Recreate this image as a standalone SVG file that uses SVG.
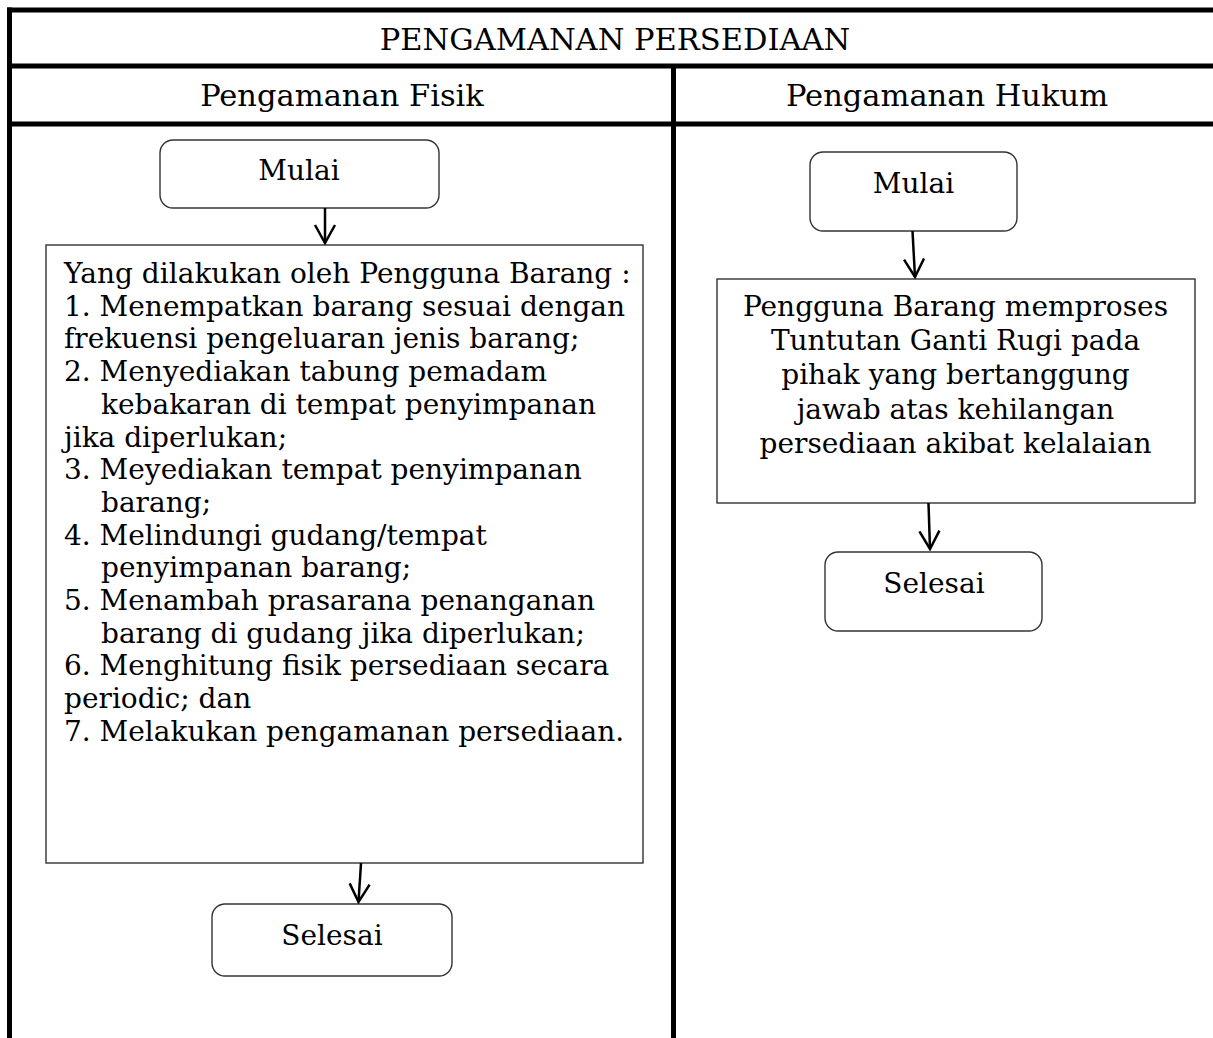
<svg xmlns="http://www.w3.org/2000/svg" width="1213" height="1038" viewBox="0 0 1213 1038">
  <style>
    text { font-family: "DejaVu Serif", "Liberation Serif", serif; fill: #000; }
    .title { font-size: 30.5px; text-anchor: middle; }
    .body { font-size: 28px; }
    .mid { text-anchor: middle; }
    .frame { stroke: #000; stroke-width: 5; fill: none; }
    .box { fill: #fff; stroke: #333; stroke-width: 1.4; }
    .conn { stroke: #000; stroke-width: 2.5; fill: none; }
  </style>
  <defs>
    <!-- open V arrowhead, drawn pointing along +x -->
    <marker id="arrow" viewBox="0 0 24 24" refX="22" refY="12" markerWidth="24" markerHeight="24" markerUnits="userSpaceOnUse" orient="auto">
      <path d="M4 2 L22 12 L4 22" fill="none" stroke="#000" stroke-width="2.5" stroke-linejoin="miter"/>
    </marker>
  </defs>

  <rect width="1213" height="1038" fill="#fff"/>

  <!-- swimlane frame -->
  <g id="frame">
    <line class="frame" x1="7" y1="10" x2="1213" y2="10"/>
    <line class="frame" x1="9.5" y1="7.5" x2="9.5" y2="1038"/>
    <line class="frame" x1="7" y1="66" x2="1213" y2="66"/>
    <line class="frame" x1="7" y1="124" x2="1213" y2="124"/>
    <line class="frame" x1="673.5" y1="66" x2="673.5" y2="1038"/>
    <text class="title" x="615" y="50">PENGAMANAN PERSEDIAAN</text>
    <text class="title" x="342" y="106">Pengamanan Fisik</text>
    <text class="title" x="947" y="106">Pengamanan Hukum</text>
  </g>

  <!-- lane: Pengamanan Fisik -->
  <g id="fisik-mulai">
    <rect class="box" x="160" y="140" width="279" height="68" rx="13"/>
    <text class="body mid" x="299" y="180">Mulai</text>
  </g>
  <g id="fisik-proses">
    <rect class="box" x="46" y="245" width="597" height="618"/>
    <text class="body" x="64" y="283">Yang dilakukan oleh Pengguna Barang :</text>
    <text class="body" x="64" y="315.7">1. Menempatkan barang sesuai dengan</text>
    <text class="body" x="64" y="348.4">frekuensi pengeluaran jenis barang;</text>
    <text class="body" x="64" y="381.1">2. Menyediakan tabung pemadam</text>
    <text class="body" x="101" y="413.8">kebakaran di tempat penyimpanan</text>
    <text class="body" x="64" y="446.5">jika diperlukan;</text>
    <text class="body" x="64" y="479.2">3. Meyediakan tempat penyimpanan</text>
    <text class="body" x="101" y="511.9">barang;</text>
    <text class="body" x="64" y="544.6">4. Melindungi gudang/tempat</text>
    <text class="body" x="101" y="577.3">penyimpanan barang;</text>
    <text class="body" x="64" y="610">5. Menambah prasarana penanganan</text>
    <text class="body" x="101" y="642.7">barang di gudang jika diperlukan;</text>
    <text class="body" x="64" y="675.4">6. Menghitung fisik persediaan secara</text>
    <text class="body" x="64" y="708.1">periodic; dan</text>
    <text class="body" x="64" y="740.8">7. Melakukan pengamanan persediaan.</text>
  </g>
  <g id="fisik-selesai">
    <rect class="box" x="212" y="904" width="240" height="72" rx="13"/>
    <text class="body mid" x="332" y="945">Selesai</text>
  </g>

  <!-- lane: Pengamanan Hukum -->
  <g id="hukum-mulai">
    <rect class="box" x="810" y="152" width="207" height="79" rx="13"/>
    <text class="body mid" x="913.5" y="193">Mulai</text>
  </g>
  <g id="hukum-proses">
    <rect class="box" x="717" y="279" width="478" height="224"/>
    <text class="body mid" x="955.5" y="315.7">Pengguna Barang memproses</text>
    <text class="body mid" x="955.5" y="350">Tuntutan Ganti Rugi pada</text>
    <text class="body mid" x="955.5" y="384.3">pihak yang bertanggung</text>
    <text class="body mid" x="955.5" y="418.6">jawab atas kehilangan</text>
    <text class="body mid" x="955.5" y="452.9">persediaan akibat kelalaian</text>
  </g>
  <g id="hukum-selesai">
    <rect class="box" x="825" y="552" width="217" height="79" rx="13"/>
    <text class="body mid" x="934" y="592.7">Selesai</text>
  </g>

  <!-- connectors -->
  <g id="connectors">
    <line class="conn" x1="325" y1="208" x2="325" y2="243" marker-end="url(#arrow)"/>
    <line class="conn" x1="361" y1="863" x2="358.5" y2="902" marker-end="url(#arrow)"/>
    <line class="conn" x1="912.5" y1="231" x2="915" y2="277" marker-end="url(#arrow)"/>
    <line class="conn" x1="928.5" y1="503" x2="930" y2="549" marker-end="url(#arrow)"/>
  </g>
</svg>
